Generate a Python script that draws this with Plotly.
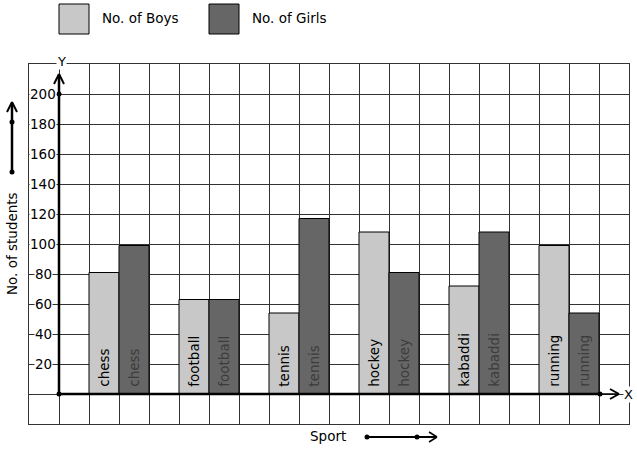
import plotly.graph_objects as go

# ---- data ----
sports = ["chess", "football", "tennis", "hockey", "kabaddi", "running"]
boys = [81, 63, 54, 108, 72, 99]
girls = [99, 63, 117, 81, 108, 54]
boys_name = "No. of Boys"
girls_name = "No. of Girls"
y_ticks = [20, 40, 60, 80, 100, 120, 140, 160, 180, 200]

BOYS_COL = "#c8c8c8"
GIRLS_COL = "#666666"
GRID = "#333333"
FONT = "DejaVu Sans"

W, H = 637, 450
L, R, T, B = 29, 8, 64, 26
PW, PH = W - L - R, H - T - B


def px(x):
    return (x - L) / PW


def py(y):
    return (H - B - y) / PH


fig = go.Figure()
fig.add_trace(go.Bar(
    x=sports, y=boys, name=boys_name, marker=dict(color=BOYS_COL, line=dict(color="black", width=1)),
    text=["\u00a0" + s for s in sports], textposition="inside", insidetextanchor="start", textangle=-90,
    textfont=dict(family=FONT, size=13.5, color="black"), showlegend=False, hoverinfo="skip"))
fig.add_trace(go.Bar(
    x=sports, y=girls, name=girls_name, marker=dict(color=GIRLS_COL, line=dict(color="black", width=1)),
    text=["\u00a0" + s for s in sports], textposition="inside", insidetextanchor="start", textangle=-90,
    textfont=dict(family=FONT, size=13.5, color="#3c3c3c"), showlegend=False, hoverinfo="skip"))

n_cols = 20
fig.update_layout(
    width=W, height=H, margin=dict(l=L, r=R, t=T, b=B),
    paper_bgcolor="white", plot_bgcolor="white",
    barmode="group", bargap=1 / 3, bargroupgap=0,
    font=dict(family=FONT, size=13, color="black"),
    xaxis=dict(type="category", range=[-1, (n_cols - 3) / 3], showgrid=False, showticklabels=False,
               ticks="", zeroline=False, showline=False),
    xaxis2=dict(overlaying="x", anchor="y", range=[-1, n_cols - 1], dtick=1, showgrid=True,
                gridcolor=GRID, gridwidth=1, showticklabels=False, ticks="", zeroline=False,
                showline=True, mirror=True, linecolor=GRID, linewidth=1),
    yaxis=dict(range=[-20, 220], dtick=20, showgrid=True, gridcolor=GRID, gridwidth=1,
               showticklabels=False, ticks="", zeroline=False, showline=True, mirror=True,
               linecolor=GRID, linewidth=1),
)

shapes = []
ann = []

# main axes (thick)
shapes.append(dict(type="line", xref="x2", yref="y", x0=0, x1=0, y0=0, y1=213,
                   line=dict(color="black", width=2.5)))
shapes.append(dict(type="line", xref="x2", yref="y", x0=0, x1=18, y0=0, y1=0,
                   line=dict(color="black", width=2.5)))
shapes.append(dict(type="line", xref="x2", yref="y", x0=18, x1=18.65, y0=0, y1=0,
                   line=dict(color="black", width=1.5)))


def seg(x0, y0, x1, y1, w=2):
    shapes.append(dict(type="line", xref="paper", yref="paper", x0=px(x0), y0=py(y0), x1=px(x1), y1=py(y1),
                       line=dict(color="black", width=w)))


def dot(x, y, r=2.5):
    shapes.append(dict(type="circle", xref="paper", yref="paper", x0=px(x - r), x1=px(x + r),
                       y0=py(y + r), y1=py(y - r), fillcolor="black", line=dict(color="black", width=0)))


# y-axis arrowhead
seg(59, 74, 54, 84, 2)
seg(59, 74, 64, 84, 2)
# x-axis arrowhead
seg(619, 394, 610, 389, 2)
seg(619, 394, 610, 399, 2)
dot(59, 94)
dot(59, 394)
dot(600, 394)

# left side arrow
seg(12, 104, 12, 172, 2.5)
seg(12, 102, 7, 112, 2)
seg(12, 102, 17, 112, 2)
dot(12, 122)
dot(12, 172)

# bottom arrow
seg(367, 437, 436, 437, 2)
seg(437, 437, 429, 432, 1.5)
seg(437, 437, 429, 442, 1.5)
dot(367, 437)
dot(417, 437)

# legend boxes
for x0, col, name in [(59, BOYS_COL, boys_name), (209, GIRLS_COL, girls_name)]:
    shapes.append(dict(type="rect", xref="paper", yref="paper", x0=px(x0), x1=px(x0 + 30),
                       y0=py(34), y1=py(4), fillcolor=col, line=dict(color="black", width=1)))
    ann.append(dict(xref="paper", yref="paper", x=px(x0 + 41), y=py(18), text=name, showarrow=False,
                    xanchor="left", yanchor="middle", font=dict(size=13.5)))

# y tick labels
for v in y_ticks:
    ann.append(dict(xref="paper", yref="y", x=px(43), y=v, text=str(v), showarrow=False,
                    xanchor="center", yanchor="middle", bgcolor="white", borderpad=0,
                    font=dict(size=13.5)))

# axis letters
ann.append(dict(xref="paper", yref="paper", x=px(61), y=py(61), text="Y", showarrow=False,
                xanchor="center", yanchor="middle", bgcolor="white", borderpad=0, font=dict(size=13)))
ann.append(dict(xref="paper", yref="paper", x=px(628), y=py(394), text="X", showarrow=False,
                xanchor="center", yanchor="middle", bgcolor="white", borderpad=0, font=dict(size=13)))

# axis titles
ann.append(dict(xref="paper", yref="paper", x=px(12), y=py(244), text="No. of students", showarrow=False,
                textangle=-90, xanchor="center", yanchor="middle", font=dict(size=13.5)))
ann.append(dict(xref="paper", yref="paper", x=px(328), y=py(436), text="Sport", showarrow=False,
                xanchor="center", yanchor="middle", font=dict(size=13.5)))

fig.update_layout(shapes=shapes, annotations=ann)
fig.write_html("out.html", config={"displayModeBar": False},
               post_script="document.body.style.margin='0';document.body.style.overflow='hidden';")
